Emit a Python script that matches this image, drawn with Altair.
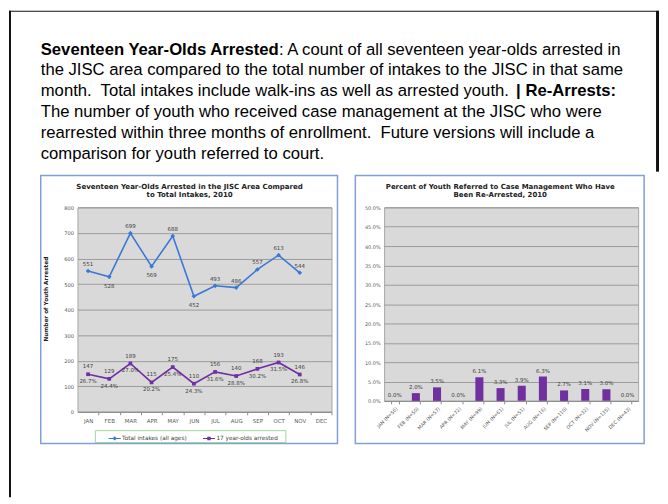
import altair as alt
import pandas as pd

# ---------------- data ----------------
MONTHS = ["JAN", "FEB", "MAR", "APR", "MAY", "JUN", "JUL", "AUG", "SEP", "OCT", "NOV", "DEC"]
LINE_MONTHS = MONTHS[:11]
SERIES = ["Total intakes (all ages)", "17 year-olds arrested"]
TOTAL_INTAKES = [551, 528, 699, 569, 688, 452, 493, 486, 557, 613, 544]
ARRESTED_17 = [147, 129, 189, 115, 175, 110, 156, 140, 168, 193, 146]
ARRESTED_SHARE = ["26.7%", "24.4%", "27.0%", "20.2%", "25.4%", "24.3%",
                  "31.6%", "28.8%", "30.2%", "31.5%", "26.8%"]
LEFT_TICKS = [0, 100, 200, 300, 400, 500, 600, 700, 800]

CASE_N = [56, 50, 57, 72, 99, 61, 51, 16, 110, 32, 135, 43]
REARREST_PCT = [0.0, 2.0, 3.5, 0.0, 6.1, 3.3, 3.9, 6.3, 2.7, 3.1, 3.0, 0.0]
RIGHT_TICKS = [0, 5, 10, 15, 20, 25, 30, 35, 40, 45, 50]

LEFT_TITLE = "Seventeen Year-Olds Arrested in the JISC Area Compared\nto Total Intakes, 2010"
RIGHT_TITLE = "Percent of Youth Referred to Case Management Who Have\nBeen Re-Arrested, 2010"
P1_BOLD = "Seventeen Year-Olds Arrested"
P1_REST = ": A count of all seventeen year-olds arrested in"
P_BODY = ("the JISC area compared to the total number of intakes to the JISC in that same\n"
          "month.\u00a0 Total intakes include walk-ins as well as arrested youth.\n"
          "The number of youth who received case management at the JISC who were\n"
          "rearrested within three months of enrollment.\u00a0 Future versions will include a\n"
          "comparison for youth referred to court.")
P3_BOLD = "| Re-Arrests:"

# label placement (style, not data)
BELOW_TOTAL = ["FEB", "APR", "JUN"]

# ---------------- style ----------------
BLUE = "#3b78d6"
PURPLE = "#7030a0"
FRAME = "#7f9fd6"
GRID = "#8c8c8c"
LBL = "#404040"
AX = "#595959"
CF = "DejaVu Sans"
PF = "Liberation Sans"
W = 256
STEP = W / 12
OX, OY = 77, 206      # left plot origin in page pixels
RX = 386              # right plot x origin

one = pd.DataFrame({"k": [0]})


def ann_rect(x0, x1, y0, y1, ox, oy, **kw):
    return alt.Chart(one).mark_rect(**kw).encode(
        x=alt.value(x0 - ox), x2=alt.value(x1 - ox),
        y=alt.value(y0 - oy), y2=alt.value(y1 - oy))


def ann_text(txt, x, y, ox, oy, **kw):
    return alt.Chart(one).mark_text(**kw).encode(
        x=alt.value(x - ox), y=alt.value(y - oy), text=alt.value(txt))


# ---------------- left panel ----------------
line_df = pd.DataFrame({
    "month": LINE_MONTHS * 2,
    "series": [SERIES[0]] * 11 + [SERIES[1]] * 11,
    "value": TOTAL_INTAKES + ARRESTED_17,
})
tot_df = pd.DataFrame({"month": LINE_MONTHS, "value": TOTAL_INTAKES,
                       "txt": [str(v) for v in TOTAL_INTAKES]})
arr_df = pd.DataFrame({"month": LINE_MONTHS, "value": ARRESTED_17,
                       "txt": [str(v) for v in ARRESTED_17], "share": ARRESTED_SHARE})

x_left = alt.X("month:N", sort=MONTHS,
               scale=alt.Scale(type="point", domain=MONTHS, padding=0.5),
               axis=alt.Axis(title=None, labelAngle=0, labelFont=CF, labelFontSize=5.5,
                             labelColor=AX, tickOffset=STEP / 2, labelOffset=-STEP / 2,
                             tickSize=3, tickColor=GRID, domainColor=GRID, labelPadding=4,
                             grid=False))
y_left = alt.Y("value:Q", scale=alt.Scale(domain=[0, 800], nice=False),
               axis=alt.Axis(values=LEFT_TICKS, title="Number of Youth Arrested",
                             titleX=-32, titleY=92, titleAngle=270, titleAlign="center",
                             titleBaseline="middle", titleFont=CF, titleFontSize=5.8,
                             titleFontWeight="bold", titleColor="#222222",
                             labelFont=CF, labelFontSize=5.2, labelColor=AX,
                             tickSize=0, domain=False, grid=True, gridColor=GRID,
                             gridWidth=0.8, labelPadding=4))
color_scale = alt.Scale(domain=SERIES, range=[BLUE, PURPLE])

PATH_D = "M-1,-0.08H1V0.08H-1Z M0,-0.36L0.36,0L0,0.36L-0.36,0Z"
PATH_S = "M-1,-0.08H1V0.08H-1Z M-0.28,-0.28H0.28V0.28H-0.28Z"
leg = alt.Legend(orient="none", legendX=108 - OX, legendY=432 - OY, direction="horizontal",
                 title=None, labelFont=CF, labelFontSize=5.8, labelColor=LBL, symbolSize=150,
                 symbolStrokeWidth=0, symbolOpacity=1, padding=0, columnPadding=15,
                 labelOffset=1)

line_tot = alt.Chart(tot_df).mark_line(strokeWidth=1.6, color=BLUE).encode(x=x_left, y=y_left)
line_arr = alt.Chart(arr_df).mark_line(strokeWidth=1.6, color=PURPLE).encode(x=x_left, y=y_left)
pts_tot = alt.Chart(tot_df).mark_point(filled=True, shape="diamond", size=22,
                                       color=BLUE, opacity=1).encode(x=x_left, y=y_left)
pts_arr = alt.Chart(arr_df).mark_point(filled=True, shape="square", size=14,
                                       color=PURPLE, opacity=1).encode(x=x_left, y=y_left)
legend_layer = alt.Chart(line_df).mark_point(filled=True, size=0, opacity=0).encode(
    x=x_left, y=y_left,
    color=alt.Color("series:N", scale=color_scale, legend=leg),
    shape=alt.Shape("series:N", scale=alt.Scale(domain=SERIES, range=[PATH_D, PATH_S]),
                    legend=leg),
)
legend_box = ann_rect(95, 287, 431, 443, OX, OY, fillOpacity=0, stroke="#9ed49e",
                      strokeWidth=1)

below_expr = "indexof([" + ",".join("'%s'" % m for m in BELOW_TOTAL) + "], datum.month) >= 0"
txt_kw = dict(font=CF, fontSize=5.5, color=LBL, baseline="middle")
tot_above = alt.Chart(tot_df).mark_text(dy=-7, **txt_kw).encode(
    x=x_left, y=y_left, text="txt:N").transform_filter("!(" + below_expr + ")")
tot_below = alt.Chart(tot_df).mark_text(dy=9, **txt_kw).encode(
    x=x_left, y=y_left, text="txt:N").transform_filter(below_expr)
arr_above = alt.Chart(arr_df).mark_text(dy=-8, **txt_kw).encode(
    x=x_left, y=y_left, text="txt:N")
arr_below = alt.Chart(arr_df).mark_text(dy=7, **txt_kw).encode(
    x=x_left, y=y_left, text="share:N")

# page text and frames drawn around the left panel
para_kw = dict(font=PF, fontSize=16.8, color="#000000", align="left", baseline="alphabetic")
para = [
    ann_text(P1_BOLD, 40, 52, OX, OY, fontWeight="bold", **para_kw),
    ann_text(P1_REST, 280, 52, OX, OY, **para_kw),
    ann_text(P_BODY, 40, 73, OX, OY, lineBreak="\n", lineHeight=21, **para_kw),
    ann_text(P3_BOLD, 519, 94, OX, OY, fontWeight="bold", **para_kw),
]
page_frame = [
    ann_rect(8, 10, 8, 498, OX, OY, color="#111111"),
    ann_rect(8, 663, 8, 9, OX, OY, color="#111111"),
    ann_rect(660, 663, 8, 170, OX, OY, color="#111111"),
]
left_frame = ann_rect(40, 339, 174, 444, OX, OY, fillOpacity=0, stroke=FRAME, strokeWidth=1.5)
left_title = ann_text(LEFT_TITLE, 190, 187, OX, OY, font=CF, fontSize=7.1, fontWeight="bold",
                      color="#222222", align="center", baseline="alphabetic",
                      lineBreak="\n", lineHeight=9)

left = alt.layer(
    *page_frame, left_frame, left_title, *para, legend_box,
    line_tot, line_arr, pts_tot, pts_arr, legend_layer,
    tot_above, tot_below, arr_above, arr_below,
).properties(width=W, height=206)

# ---------------- right panel ----------------
cat_labels = ["%s (N=%d)" % (m, n) for m, n in zip(MONTHS, CASE_N)]
bar_df = pd.DataFrame({"cat": cat_labels, "pct": REARREST_PCT})

x_right = alt.X("cat:N", sort=cat_labels,
                scale=alt.Scale(paddingInner=0.62, paddingOuter=0.31),
                axis=alt.Axis(title=None, labelAngle=-45, labelFont=CF, labelFontSize=4.8,
                              labelColor=AX, tickBand="extent", tickSize=3, tickColor=GRID,
                              domainColor=GRID, labelPadding=2, grid=False))
y_right = alt.Y("pct:Q", scale=alt.Scale(domain=[0, 50], nice=False),
                axis=alt.Axis(values=RIGHT_TICKS, title=None,
                              labelExpr="format(datum.value, '.1f') + '%'",
                              labelFont=CF, labelFontSize=5, labelColor=AX, tickSize=0,
                              domain=False, grid=True, gridColor=GRID, gridWidth=0.8,
                              labelPadding=4))

bars = alt.Chart(bar_df).mark_bar(color=PURPLE).encode(x=x_right, y=y_right)
bar_txt = alt.Chart(bar_df).transform_calculate(
    lab="format(datum.pct, '.1f') + '%'"
).mark_text(dy=-6, **txt_kw).encode(x=x_right, y=y_right, text="lab:N")

right_frame = ann_rect(357, 648, 174, 444, RX, OY, fillOpacity=0, stroke=FRAME, strokeWidth=1.5)
right_title = ann_text(RIGHT_TITLE, 503, 187, RX, OY, font=CF, fontSize=7.0, fontWeight="bold",
                       color="#222222", align="center", baseline="alphabetic",
                       lineBreak="\n", lineHeight=9)

right = alt.layer(right_frame, right_title, bars, bar_txt).properties(width=W, height=195)

chart = alt.hconcat(left, right, spacing=RX - (OX + W), bounds="flush").properties(
    padding=0
).configure_view(fill="#d9d9d9", stroke="#a6a6a6", strokeWidth=1)

chart.save("out.html", embed_options={"renderer": "svg", "actions": False})
